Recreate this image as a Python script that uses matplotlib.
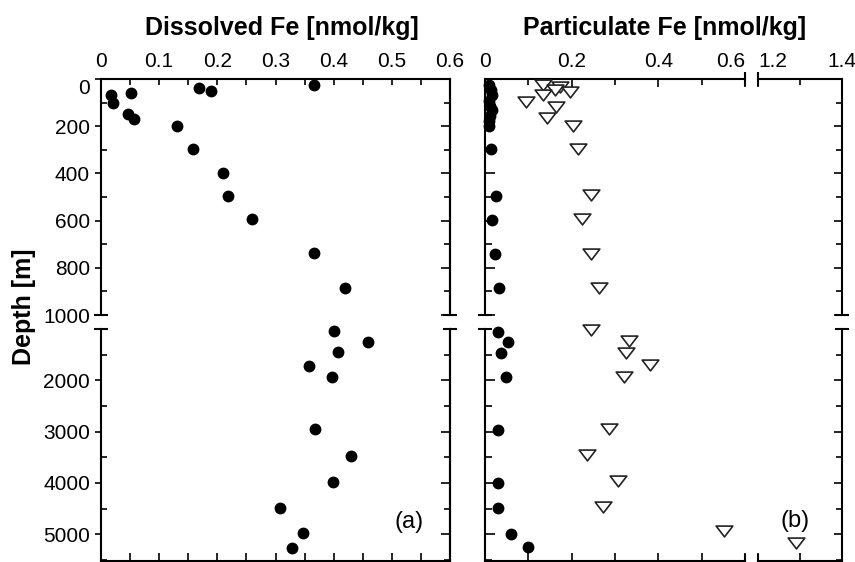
import numpy as np
import matplotlib
matplotlib.use('Agg')
import matplotlib.pyplot as plt
from matplotlib.path import Path

plt.rcParams['font.family'] = ['Liberation Sans', 'DejaVu Sans']

# (a) dissolved Fe, depth in m, Fe in nmol/kg
dfe_depth = [25, 39, 50, 58, 68, 100, 150, 171, 198, 298, 397, 494, 594, 736, 887,
             1047, 1261, 1455, 1714, 1940, 2953, 3479, 3979, 4484, 4983, 5275]
dfe = [0.367, 0.168, 0.189, 0.051, 0.018, 0.021, 0.047, 0.057, 0.130, 0.158, 0.209, 0.218, 0.260, 0.367, 0.419,
       0.400, 0.459, 0.407, 0.357, 0.397, 0.368, 0.429, 0.399, 0.308, 0.347, 0.329]

# (b) particulate Fe : circles and triangles
pfe_c_depth = [25, 45, 68, 92, 113, 133, 155, 178, 200, 296, 496, 597, 741, 887,
               1060, 1261, 1468, 1935, 2973, 3998, 4484, 4996, 5244]
pfe_c = [0.010, 0.013, 0.016, 0.010, 0.012, 0.015, 0.011, 0.010, 0.009, 0.013, 0.025, 0.015, 0.023, 0.033,
         0.029, 0.052, 0.037, 0.048, 0.029, 0.031, 0.031, 0.059, 0.099]
pfe_t_depth = [25, 35, 47, 54, 68, 99, 120, 167, 199, 298, 492, 593, 741, 887,
               1027, 1241, 1461, 1694, 1935, 2940, 3459, 3965, 4465, 4932, 5169]
pfe_t = [0.134, 0.173, 0.162, 0.196, 0.134, 0.095, 0.164, 0.143, 0.204, 0.214, 0.245, 0.223, 0.245, 0.264,
         0.245, 0.333, 0.325, 0.381, 0.321, 0.285, 0.235, 0.306, 0.272, 0.552, 1.29]

a_xticks = [0, 0.1, 0.2, 0.3, 0.4, 0.5, 0.6]
a_xlabels = ['0', '0.1', '0.2', '0.3', '0.4', '0.5', '0.6']
bl_xticks = [0, 0.2, 0.4, 0.6]
bl_xlabels = ['0', '0.2', '0.4', '0.6']
br_xticks = [1.2, 1.4]
br_xlabels = ['1.2', '1.4']
top_yticks = [0, 200, 400, 600, 800, 1000]
bot_yticks = [2000, 3000, 4000, 5000]

W, H = 855, 562
fig = plt.figure(figsize=(W / 100, H / 100), dpi=100)


def px_axes(x0, y0, x1, y1):
    return fig.add_axes([x0 / W, 1 - y1 / H, (x1 - x0) / W, (y1 - y0) / H])


def cap(ax, x, y, m):
    ax.plot([x], [y], marker=m, color='k', markersize=10, mew=1.5,
            transform=ax.transAxes, clip_on=False)


tri = Path([(-1, 0.65), (1, 0.65), (0, -0.65), (-1, 0.65)],
           [Path.MOVETO, Path.LINETO, Path.LINETO, Path.CLOSEPOLY])


def dots(ax, x, d, xr, dr):
    x, d = np.array(x), np.array(d)
    m = (x >= xr[0]) & (x <= xr[1]) & (d > dr[0]) & (d <= dr[1])
    ax.plot(x[m], d[m], 'o', color='k', ms=7.5, clip_on=False, zorder=3)


def tris(ax, x, d, xr, dr):
    x, d = np.array(x), np.array(d)
    m = (x >= xr[0]) & (x <= xr[1]) & (d > dr[0]) & (d <= dr[1])
    ax.plot(x[m], d[m], ls='none', marker=tri, ms=12, mfc='white', mec='#222222',
            mew=1.2, clip_on=False, zorder=4)


TOP = (-1, 1000)
BOT = (1000, 6000)

at = px_axes(101, 79, 450, 315)
ab = px_axes(101, 329, 450, 561)
btl = px_axes(485, 79, 745, 315)
btr = px_axes(758, 79, 842, 315)
bbl = px_axes(485, 329, 745, 561)
bbr = px_axes(758, 329, 842, 561)

for ax in [at, ab, btl, btr, bbl, bbr]:
    for s in ax.spines.values():
        s.set_linewidth(1.5)
    ax.tick_params(labelsize=15)

for ax in [at, btl, btr]:
    ax.set_ylim(1000, 0)
    ax.spines['bottom'].set_visible(False)
    ax.set_yticks(top_yticks)
    ax.set_yticks(np.arange(100, 1000, 200), minor=True)
for ax in [ab, bbl, bbr]:
    ax.set_ylim(5520, 1000)
    ax.spines['top'].set_visible(False)
    ax.set_yticks(bot_yticks)
    ax.set_yticks(np.arange(1500, 5600, 1000), minor=True)

for ax in [at, ab, btl, bbl]:
    ax.set_xlim(0, 0.6)
for ax in [btr, bbr]:
    ax.set_xlim(1.2, 1.4)

# panel (a)
at.set_xticks(a_xticks, a_xlabels)
at.set_xticks(np.arange(0.05, 0.6, 0.1), minor=True)
ab.set_xticks(a_xticks)
ab.set_xticks(np.arange(0.05, 0.6, 0.1), minor=True)
at.tick_params(axis='x', which='both', direction='in', top=True, bottom=False,
               labeltop=True, labelbottom=False, pad=6)
at.tick_params(axis='x', which='major', length=4.5, width=1.2)
at.tick_params(axis='x', which='minor', length=4, width=1.2)
ab.tick_params(axis='x', which='both', direction='in', length=5.5, width=1.2,
               labelbottom=False)
for ax in [at, ab]:
    ax.tick_params(axis='y', which='major', direction='out', left=True, right=False,
                   length=4, width=1.2, pad=4)
    ax.tick_params(axis='y', which='minor', direction='in', left=True, right=False,
                   length=4.5, width=1.2)
    sec = ax.secondary_yaxis('right')
    sec.set_yticks(ax.get_yticks())
    sec.set_yticks(ax.get_yticks(minor=True), minor=True)
    sec.tick_params(which='major', direction='in', length=6.5, width=1.2, labelright=False)
    sec.tick_params(which='minor', direction='in', length=4, width=1.2)
    sec.spines['right'].set_linewidth(1.5)
at.yaxis.get_major_ticks()[0].label1.set_verticalalignment('top')

dots(at, dfe, dfe_depth, (0, 0.6), TOP)
dots(ab, dfe, dfe_depth, (0, 0.6), BOT)

# panel (b)
btl.set_xticks(bl_xticks, bl_xlabels)
btl.set_xticks([0.1, 0.3, 0.5], minor=True)
btr.set_xticks(br_xticks, br_xlabels)
btr.set_xticks([1.3], minor=True)
bbl.set_xticks(bl_xticks)
bbl.set_xticks([0.1, 0.3, 0.5], minor=True)
bbr.set_xticks(br_xticks)
bbr.set_xticks([1.3], minor=True)
for ax in [btl, btr]:
    ax.tick_params(axis='x', which='both', direction='in', top=True, bottom=False,
                   labeltop=True, labelbottom=False, pad=6, width=1.2)
    ax.tick_params(axis='x', which='major', length=6)
    ax.tick_params(axis='x', which='minor', length=4)
for ax in [bbl, bbr]:
    ax.tick_params(axis='x', which='both', direction='in', length=5.5, width=1.2,
                   labelbottom=False)
for ax in [btl, bbl]:
    ax.spines['right'].set_visible(False)
    ax.tick_params(axis='y', which='both', direction='in', left=True, right=False,
                   labelleft=False, width=1.2)
    ax.tick_params(axis='y', which='major', length=7)
    ax.tick_params(axis='y', which='minor', length=5)
for ax in [btr, bbr]:
    ax.spines['left'].set_visible(False)
    ax.tick_params(axis='y', which='both', direction='in', left=False, right=True,
                   labelleft=False, width=1.2)
    ax.tick_params(axis='y', which='major', length=6)
    ax.tick_params(axis='y', which='minor', length=4)
btl.xaxis.get_major_ticks()[-1].label2.set_horizontalalignment('right')
btr.xaxis.get_major_ticks()[0].label2.set_horizontalalignment('left')

for ax, xr in [(btl, (0, 0.6)), (btr, (1.2, 1.4))]:
    dots(ax, pfe_c, pfe_c_depth, xr, TOP)
    tris(ax, pfe_t, pfe_t_depth, xr, TOP)
for ax, xr in [(bbl, (0, 0.6)), (bbr, (1.2, 1.4))]:
    dots(ax, pfe_c, pfe_c_depth, xr, BOT)
    tris(ax, pfe_t, pfe_t_depth, xr, BOT)

# break marks
cap(at, 0, 0, '_'); cap(at, 1, 0, '_')
cap(ab, 0, 1, '_'); cap(ab, 1, 1, '_')
cap(btl, 0, 0, '_'); cap(btl, 1, 1, '|')
cap(btr, 1, 0, '_'); cap(btr, 0, 1, '|')
cap(bbl, 0, 1, '_'); cap(bbl, 1, 0, '|')
cap(bbr, 1, 1, '_'); cap(bbr, 0, 0, '|')

fig.text(282 / W, 1 - 34.5 / H, 'Dissolved Fe [nmol/kg]', ha='center', va='baseline',
         fontsize=18, fontweight='bold')
fig.text(665 / W, 1 - 34.5 / H, 'Particulate Fe [nmol/kg]', ha='center', va='baseline',
         fontsize=18, fontweight='bold')
fig.text(24 / W, 1 - 307 / H, 'Depth [m]', rotation=90, ha='center', va='center',
         fontsize=18, fontweight='bold')
fig.text(409 / W, 1 - 522 / H, '(a)', ha='center', va='center', fontsize=17)
fig.text(795 / W, 1 - 521 / H, '(b)', ha='center', va='center', fontsize=17)

fig.savefig('out.png', dpi=100)
